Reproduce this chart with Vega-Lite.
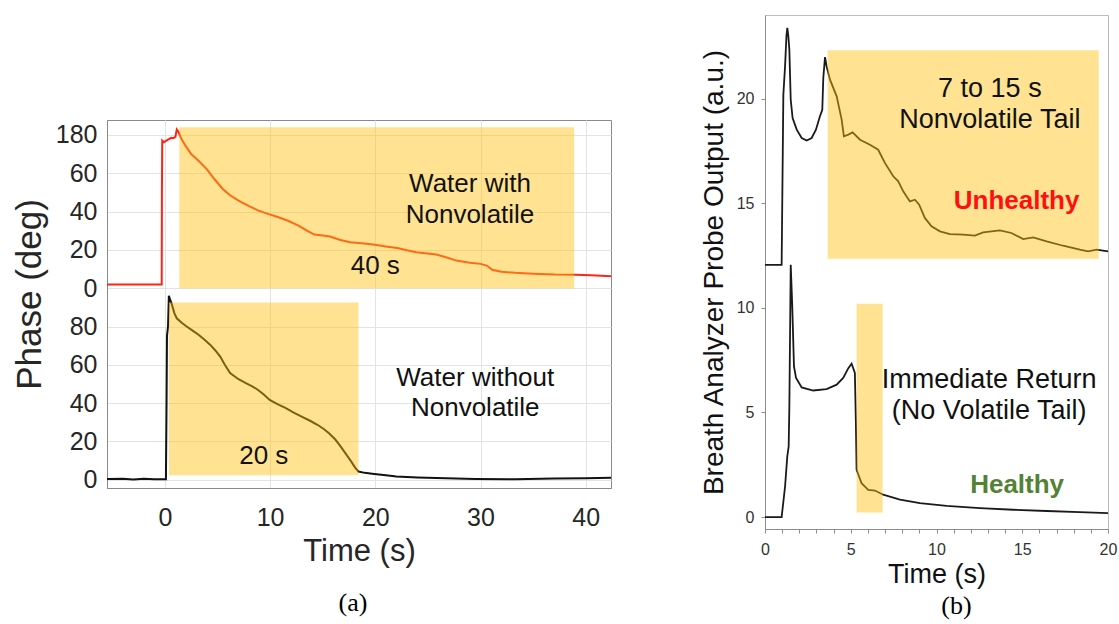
{
  "$schema": "https://vega.github.io/schema/vega-lite/v6.json",
  "background": "white",
  "padding": {"left": 11, "top": 12, "right": 0, "bottom": 0},
  "spacing": 83,
  "resolve": {"scale": {"color": "independent"}},
  "config": {"font": "Liberation Sans", "view": {"stroke": null}},
  "datasets": {
    "phaseA": [
      {"sample": "with", "t": -5.5, "phase": 101.9},
      {"sample": "with", "t": -3, "phase": 101.9},
      {"sample": "with", "t": -0.3, "phase": 101.9},
      {"sample": "with", "t": -0.28, "phase": 150},
      {"sample": "with", "t": -0.25, "phase": 177},
      {"sample": "with", "t": -0.1, "phase": 176.2},
      {"sample": "with", "t": 0.3, "phase": 177.5},
      {"sample": "with", "t": 0.6, "phase": 178.5},
      {"sample": "with", "t": 0.8, "phase": 178.3},
      {"sample": "with", "t": 1.0, "phase": 179},
      {"sample": "with", "t": 1.13, "phase": 182.8},
      {"sample": "with", "t": 1.3, "phase": 181.5},
      {"sample": "with", "t": 1.58, "phase": 177.9},
      {"sample": "with", "t": 2.0, "phase": 174},
      {"sample": "with", "t": 2.5, "phase": 170},
      {"sample": "with", "t": 3.2, "phase": 166.5},
      {"sample": "with", "t": 4.0, "phase": 162},
      {"sample": "with", "t": 4.7, "phase": 157},
      {"sample": "with", "t": 5.5, "phase": 151.8},
      {"sample": "with", "t": 6.2, "phase": 148.5},
      {"sample": "with", "t": 7.0, "phase": 145.7},
      {"sample": "with", "t": 8.0, "phase": 142.8},
      {"sample": "with", "t": 8.9, "phase": 140.5},
      {"sample": "with", "t": 9.8, "phase": 138.8},
      {"sample": "with", "t": 10.8, "phase": 137},
      {"sample": "with", "t": 11.7, "phase": 135.2},
      {"sample": "with", "t": 12.7, "phase": 132.7},
      {"sample": "with", "t": 13.5, "phase": 130},
      {"sample": "with", "t": 14.2, "phase": 128},
      {"sample": "with", "t": 15.0, "phase": 127.5},
      {"sample": "with", "t": 15.7, "phase": 127},
      {"sample": "with", "t": 16.6, "phase": 125.3},
      {"sample": "with", "t": 17.6, "phase": 124},
      {"sample": "with", "t": 18.7, "phase": 123.4},
      {"sample": "with", "t": 19.8, "phase": 122.8},
      {"sample": "with", "t": 21.0, "phase": 121.8},
      {"sample": "with", "t": 22.1, "phase": 121},
      {"sample": "with", "t": 23.0, "phase": 119.8},
      {"sample": "with", "t": 23.9, "phase": 118.8},
      {"sample": "with", "t": 25.8, "phase": 117.6},
      {"sample": "with", "t": 26.8, "phase": 116},
      {"sample": "with", "t": 27.7, "phase": 114.4},
      {"sample": "with", "t": 29.0, "phase": 113.3},
      {"sample": "with", "t": 30.0, "phase": 112.7},
      {"sample": "with", "t": 30.6, "phase": 111.8},
      {"sample": "with", "t": 31.1, "phase": 109.6},
      {"sample": "with", "t": 32.0, "phase": 108.6},
      {"sample": "with", "t": 33.3, "phase": 108},
      {"sample": "with", "t": 35.0, "phase": 107.5},
      {"sample": "with", "t": 37.1, "phase": 107.1},
      {"sample": "with", "t": 39.0, "phase": 107},
      {"sample": "with", "t": 40.5, "phase": 106.7},
      {"sample": "with", "t": 42.4, "phase": 106.3},
      {"sample": "without", "t": -5.5, "phase": 0.4},
      {"sample": "without", "t": -4, "phase": 0.5},
      {"sample": "without", "t": -3, "phase": 0.2},
      {"sample": "without", "t": -2, "phase": 0.5},
      {"sample": "without", "t": -1, "phase": 0.3},
      {"sample": "without", "t": 0.1, "phase": 0.3},
      {"sample": "without", "t": 0.16, "phase": 40},
      {"sample": "without", "t": 0.2, "phase": 75},
      {"sample": "without", "t": 0.3, "phase": 80},
      {"sample": "without", "t": 0.38, "phase": 96},
      {"sample": "without", "t": 0.5, "phase": 94},
      {"sample": "without", "t": 0.64, "phase": 92},
      {"sample": "without", "t": 0.9, "phase": 87},
      {"sample": "without", "t": 1.13, "phase": 84.3},
      {"sample": "without", "t": 1.6, "phase": 82},
      {"sample": "without", "t": 2.07, "phase": 80},
      {"sample": "without", "t": 2.6, "phase": 78},
      {"sample": "without", "t": 3.2, "phase": 75.7},
      {"sample": "without", "t": 3.8, "phase": 73},
      {"sample": "without", "t": 4.32, "phase": 70.4},
      {"sample": "without", "t": 4.8, "phase": 67.5},
      {"sample": "without", "t": 5.26, "phase": 64.3},
      {"sample": "without", "t": 5.7, "phase": 60},
      {"sample": "without", "t": 6.2, "phase": 55.7},
      {"sample": "without", "t": 7.0, "phase": 52.5},
      {"sample": "without", "t": 7.7, "phase": 50.4},
      {"sample": "without", "t": 8.3, "phase": 48.8},
      {"sample": "without", "t": 8.83, "phase": 47},
      {"sample": "without", "t": 9.4, "phase": 44.5},
      {"sample": "without", "t": 9.96, "phase": 41.7},
      {"sample": "without", "t": 10.7, "phase": 39.5},
      {"sample": "without", "t": 11.5, "phase": 37.4},
      {"sample": "without", "t": 12.2, "phase": 35.2},
      {"sample": "without", "t": 13.0, "phase": 33},
      {"sample": "without", "t": 13.8, "phase": 30.8},
      {"sample": "without", "t": 14.5, "phase": 28.7},
      {"sample": "without", "t": 15.1, "phase": 26.5},
      {"sample": "without", "t": 15.6, "phase": 24.3},
      {"sample": "without", "t": 16.2, "phase": 21},
      {"sample": "without", "t": 16.7, "phase": 17.4},
      {"sample": "without", "t": 17.2, "phase": 13.5},
      {"sample": "without", "t": 17.7, "phase": 9.6},
      {"sample": "without", "t": 18.1, "phase": 6.2},
      {"sample": "without", "t": 18.4, "phase": 4.3},
      {"sample": "without", "t": 19.0, "phase": 3.6},
      {"sample": "without", "t": 19.7, "phase": 3.1},
      {"sample": "without", "t": 21.0, "phase": 2.3},
      {"sample": "without", "t": 22.0, "phase": 1.7},
      {"sample": "without", "t": 24.0, "phase": 1.2},
      {"sample": "without", "t": 25.8, "phase": 0.9},
      {"sample": "without", "t": 29.5, "phase": 0.4},
      {"sample": "without", "t": 33.3, "phase": 0.3},
      {"sample": "without", "t": 37.0, "phase": 0.7},
      {"sample": "without", "t": 40.0, "phase": 0.8},
      {"sample": "without", "t": 42.4, "phase": 1.0}
    ],
    "boxesA": [
      {"t1": 1.37, "t2": 38.9, "p1": 100, "p2": 184},
      {"t1": 0.38, "t2": 18.4, "p1": 2.3, "p2": 92.5}
    ],
    "notesA": [
      {"t": 29, "phase": 154.4, "text": "Water with"},
      {"t": 29, "phase": 138.4, "text": "Nonvolatile"},
      {"t": 20, "phase": 111.8, "text": "40 s"},
      {"t": 29.5, "phase": 53, "text": "Water without"},
      {"t": 29.5, "phase": 37.4, "text": "Nonvolatile"},
      {"t": 9.4, "phase": 12.2, "text": "20 s"}
    ],
    "probeB": [
      {"subject": "Unhealthy", "t": 0, "out": 12.06},
      {"subject": "Unhealthy", "t": 0.97, "out": 12.06},
      {"subject": "Unhealthy", "t": 1.07, "out": 20.19},
      {"subject": "Unhealthy", "t": 1.17, "out": 21.55},
      {"subject": "Unhealthy", "t": 1.25, "out": 23.0},
      {"subject": "Unhealthy", "t": 1.3, "out": 23.38},
      {"subject": "Unhealthy", "t": 1.36, "out": 23.0},
      {"subject": "Unhealthy", "t": 1.42, "out": 22.34},
      {"subject": "Unhealthy", "t": 1.5, "out": 19.95},
      {"subject": "Unhealthy", "t": 1.61, "out": 19.07},
      {"subject": "Unhealthy", "t": 1.85, "out": 18.52},
      {"subject": "Unhealthy", "t": 2.14, "out": 18.12},
      {"subject": "Unhealthy", "t": 2.43, "out": 18.0},
      {"subject": "Unhealthy", "t": 2.72, "out": 18.12},
      {"subject": "Unhealthy", "t": 2.97, "out": 18.52},
      {"subject": "Unhealthy", "t": 3.2, "out": 19.15},
      {"subject": "Unhealthy", "t": 3.34, "out": 19.47},
      {"subject": "Unhealthy", "t": 3.4, "out": 21.0},
      {"subject": "Unhealthy", "t": 3.5, "out": 21.99},
      {"subject": "Unhealthy", "t": 3.59, "out": 21.55},
      {"subject": "Unhealthy", "t": 3.79, "out": 20.91},
      {"subject": "Unhealthy", "t": 4.18, "out": 20.11},
      {"subject": "Unhealthy", "t": 4.47, "out": 19.0},
      {"subject": "Unhealthy", "t": 4.6, "out": 18.2},
      {"subject": "Unhealthy", "t": 4.86, "out": 18.28},
      {"subject": "Unhealthy", "t": 5.11, "out": 18.39},
      {"subject": "Unhealthy", "t": 5.54, "out": 18.04},
      {"subject": "Unhealthy", "t": 6.12, "out": 17.8},
      {"subject": "Unhealthy", "t": 6.6, "out": 17.56},
      {"subject": "Unhealthy", "t": 6.99, "out": 16.93},
      {"subject": "Unhealthy", "t": 7.48, "out": 16.29},
      {"subject": "Unhealthy", "t": 7.77, "out": 16.05},
      {"subject": "Unhealthy", "t": 8.06, "out": 15.57},
      {"subject": "Unhealthy", "t": 8.45, "out": 15.09},
      {"subject": "Unhealthy", "t": 8.74, "out": 15.17},
      {"subject": "Unhealthy", "t": 8.99, "out": 14.93},
      {"subject": "Unhealthy", "t": 9.32, "out": 14.3},
      {"subject": "Unhealthy", "t": 9.71, "out": 13.9},
      {"subject": "Unhealthy", "t": 10.2, "out": 13.66},
      {"subject": "Unhealthy", "t": 10.78, "out": 13.53},
      {"subject": "Unhealthy", "t": 11.56, "out": 13.5},
      {"subject": "Unhealthy", "t": 12.24, "out": 13.45},
      {"subject": "Unhealthy", "t": 12.72, "out": 13.61},
      {"subject": "Unhealthy", "t": 13.69, "out": 13.7},
      {"subject": "Unhealthy", "t": 14.37, "out": 13.58},
      {"subject": "Unhealthy", "t": 15.05, "out": 13.29},
      {"subject": "Unhealthy", "t": 15.64, "out": 13.37},
      {"subject": "Unhealthy", "t": 16.42, "out": 13.18},
      {"subject": "Unhealthy", "t": 17.38, "out": 12.97},
      {"subject": "Unhealthy", "t": 18.36, "out": 12.78},
      {"subject": "Unhealthy", "t": 18.84, "out": 12.7},
      {"subject": "Unhealthy", "t": 19.33, "out": 12.78},
      {"subject": "Unhealthy", "t": 20.0, "out": 12.7},
      {"subject": "Healthy", "t": 0, "out": 0},
      {"subject": "Healthy", "t": 0.97, "out": 0},
      {"subject": "Healthy", "t": 1.17, "out": 1.46},
      {"subject": "Healthy", "t": 1.3, "out": 2.9},
      {"subject": "Healthy", "t": 1.38, "out": 3.38},
      {"subject": "Healthy", "t": 1.42, "out": 5.29},
      {"subject": "Healthy", "t": 1.5, "out": 12.06},
      {"subject": "Healthy", "t": 1.59, "out": 10.07},
      {"subject": "Healthy", "t": 1.69, "out": 7.2},
      {"subject": "Healthy", "t": 1.81, "out": 6.65},
      {"subject": "Healthy", "t": 2.14, "out": 6.2},
      {"subject": "Healthy", "t": 2.81, "out": 6.05},
      {"subject": "Healthy", "t": 3.59, "out": 6.12},
      {"subject": "Healthy", "t": 4.18, "out": 6.33},
      {"subject": "Healthy", "t": 4.56, "out": 6.65},
      {"subject": "Healthy", "t": 4.86, "out": 7.12},
      {"subject": "Healthy", "t": 5.05, "out": 7.33},
      {"subject": "Healthy", "t": 5.24, "out": 6.89},
      {"subject": "Healthy", "t": 5.3, "out": 4.5},
      {"subject": "Healthy", "t": 5.34, "out": 2.26},
      {"subject": "Healthy", "t": 5.63, "out": 1.62},
      {"subject": "Healthy", "t": 6.02, "out": 1.3},
      {"subject": "Healthy", "t": 6.41, "out": 1.27},
      {"subject": "Healthy", "t": 6.89, "out": 1.07},
      {"subject": "Healthy", "t": 7.87, "out": 0.83},
      {"subject": "Healthy", "t": 9.03, "out": 0.67},
      {"subject": "Healthy", "t": 10.59, "out": 0.54},
      {"subject": "Healthy", "t": 12.53, "out": 0.43},
      {"subject": "Healthy", "t": 14.47, "out": 0.35},
      {"subject": "Healthy", "t": 16.42, "out": 0.29},
      {"subject": "Healthy", "t": 18.36, "out": 0.24},
      {"subject": "Healthy", "t": 20.0, "out": 0.19}
    ],
    "boxesB": [
      {"t1": 3.65, "t2": 19.46, "o1": 12.35, "o2": 22.31},
      {"t1": 5.34, "t2": 6.86, "o1": 0.22, "o2": 10.2}
    ],
    "notesB": [
      {"t": 13.11, "out": 20.46, "text": "7 to 15 s"},
      {"t": 13.11, "out": 18.96, "text": "Nonvolatile Tail"},
      {"t": 13.07, "out": 6.57, "text": "Immediate Return"},
      {"t": 13.07, "out": 5.05, "text": "(No Volatile Tail)"}
    ],
    "statusB": [
      {"t": 14.67, "out": 15.09, "status": "Unhealthy"},
      {"t": 14.7, "out": 1.54, "status": "Healthy"}
    ]
  },
  "hconcat": [
    {
      "spacing": 100,
      "vconcat": [
        {
          "width": 504,
          "height": 1,
          "view": {"stroke": null},
          "data": {"values": [{}]},
          "mark": {"type": "point", "opacity": 0},
          "encoding": {}
        },
        {
          "width": 504,
          "height": 368,
          "view": {"stroke": "#8a8a8a", "strokeWidth": 1},
          "title": {"text": "(a)", "orient": "bottom", "font": "Liberation Serif", "fontSize": 26, "fontWeight": "normal", "color": "black", "offset": 24, "dx": -6},
          "layer": [
            {
              "data": {"name": "phaseA"},
              "mark": {"type": "line", "strokeWidth": 2},
              "encoding": {
                "x": {"field": "t", "type": "quantitative",
                  "scale": {"domain": [-5.5, 42.4], "nice": false, "zero": false},
                  "axis": {"values": [0, 10, 20, 30, 40], "tickCount": 20, "format": "d", "grid": true, "gridColor": "#e3e3e3", "domainColor": "#8a8a8a", "ticks": false, "tickSize": 0,
                    "labelFontSize": 25, "labelColor": "#262626", "labelPadding": 17, "labelFlush": false, "labelOverlap": false,
                    "title": "Time (s)", "titleFontSize": 31, "titleFontWeight": "normal", "titleColor": "#262626", "titlePadding": 6}},
                "y": {"field": "phase", "type": "quantitative",
                  "scale": {"domain": [-4.3, 187.8], "nice": false, "zero": false},
                  "axis": {"values": [0, 20, 40, 60, 80, 100, 120, 140, 160, 180], "tickCount": 30, "format": "d",
                    "labelExpr": "datum.value >= 180 ? '180' : datum.value >= 100 ? '' + (datum.value - 100) : datum.label",
                    "grid": true, "gridColor": "#e3e3e3", "domainColor": "#8a8a8a", "ticks": false, "tickSize": 0, "labelOverlap": false,
                    "labelFontSize": 25, "labelColor": "#262626", "labelPadding": 10,
                    "title": "Phase (deg)", "titleFontSize": 35, "titleFontWeight": "normal", "titleColor": "#262626", "titlePadding": 8, "titleY": 174}},
                "color": {"field": "sample", "type": "nominal", "scale": {"domain": ["with", "without"], "range": ["#ff2418", "#111111"]}, "legend": null}
              }
            },
            {
              "data": {"name": "boxesA"},
              "mark": {"type": "rect", "color": "#ffc20e", "opacity": 0.45},
              "encoding": {
                "x": {"field": "t1", "type": "quantitative"},
                "x2": {"field": "t2"},
                "y": {"field": "p1", "type": "quantitative"},
                "y2": {"field": "p2"}
              }
            },
            {
              "data": {"name": "notesA"},
              "mark": {"type": "text", "fontSize": 26, "color": "#111111", "baseline": "middle", "align": "center"},
              "encoding": {
                "x": {"field": "t", "type": "quantitative"},
                "y": {"field": "phase", "type": "quantitative"},
                "text": {"field": "text"}
              }
            }
          ]
        }
      ]
    },
    {
      "width": 343,
      "height": 514,
      "view": {"stroke": "#bdbdbd", "strokeWidth": 1},
      "title": {"text": "(b)", "orient": "bottom", "font": "Liberation Serif", "fontSize": 26, "fontWeight": "normal", "color": "black", "offset": 6, "dx": 20},
      "layer": [
        {
          "data": {"name": "probeB"},
          "mark": {"type": "line", "strokeWidth": 1.8, "color": "#1a1a1a"},
          "encoding": {
            "x": {"field": "t", "type": "quantitative",
              "scale": {"domain": [0, 20], "nice": false, "zero": false},
              "axis": {"values": [0,1,2,3,4,5,6,7,8,9,10,11,12,13,14,15,16,17,18,19,20], "tickCount": 40, "format": "d",
                "labelExpr": "datum.value % 5 === 0 ? datum.label : ''",
                "grid": false, "domainColor": "#8c8c8c", "tickColor": "#8c8c8c", "tickSize": 4,
                "labelFontSize": 16, "labelColor": "#333333", "labelPadding": 8, "labelFlush": false, "labelOverlap": false,
                "title": "Time (s)", "titleFontSize": 27, "titleFontWeight": "normal", "titleColor": "#111111", "titlePadding": 4}},
            "y": {"field": "out", "type": "quantitative",
              "scale": {"domain": [-0.57, 24.0], "nice": false, "zero": false},
              "axis": {"values": [0, 5, 10, 15, 20], "tickCount": 20, "format": "d", "grid": false, "domainColor": "#8c8c8c", "tickColor": "#8c8c8c", "tickSize": 4,
                "labelFontSize": 16, "labelColor": "#333333", "labelPadding": 7,
                "title": "Breath Analyzer Probe Output (a.u.)", "titleFontSize": 28, "titleFontWeight": "normal", "titleColor": "#111111", "titlePadding": 8}},
            "detail": {"field": "subject", "type": "nominal"}
          }
        },
        {
          "data": {"name": "boxesB"},
          "mark": {"type": "rect", "color": "#ffc20e", "opacity": 0.45},
          "encoding": {
            "x": {"field": "t1", "type": "quantitative"},
            "x2": {"field": "t2"},
            "y": {"field": "o1", "type": "quantitative"},
            "y2": {"field": "o2"}
          }
        },
        {
          "data": {"name": "notesB"},
          "mark": {"type": "text", "fontSize": 27, "color": "#111111", "baseline": "middle", "align": "center"},
          "encoding": {
            "x": {"field": "t", "type": "quantitative"},
            "y": {"field": "out", "type": "quantitative"},
            "text": {"field": "text"}
          }
        },
        {
          "data": {"name": "statusB"},
          "mark": {"type": "text", "fontSize": 26, "fontWeight": "bold", "baseline": "middle", "align": "center"},
          "encoding": {
            "x": {"field": "t", "type": "quantitative"},
            "y": {"field": "out", "type": "quantitative"},
            "text": {"field": "status"},
            "color": {"field": "status", "type": "nominal", "scale": {"domain": ["Unhealthy", "Healthy"], "range": ["#ff1010", "#548235"]}, "legend": null}
          }
        }
      ]
    }
  ]
}
